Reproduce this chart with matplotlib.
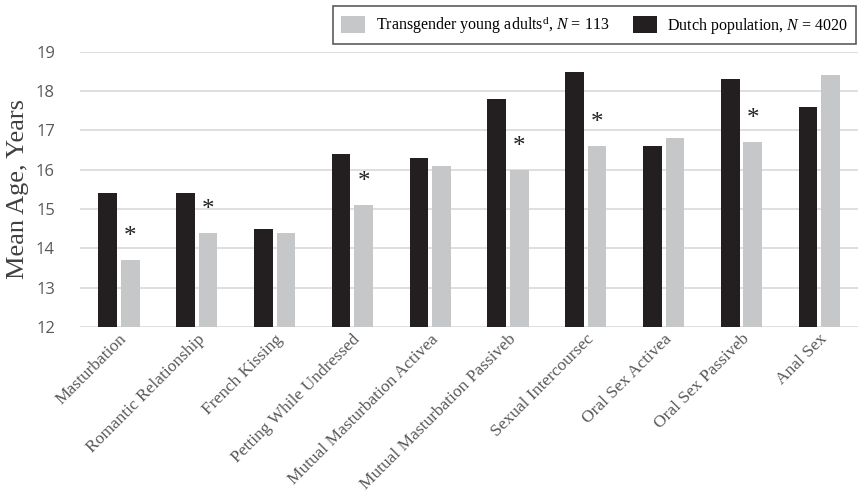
import numpy as np
import matplotlib.pyplot as plt

plt.rcParams["mathtext.fontset"] = "custom"
plt.rcParams["mathtext.rm"] = "Liberation Serif"
plt.rcParams["mathtext.it"] = "Liberation Serif:italic"

categories = ["Masturbation", "Romantic Relationship", "French Kissing",
              "Petting While Undressed", "Mutual Masturbation Activea",
              "Mutual Masturbation Passiveb", "Sexual Intercoursec",
              "Oral Sex Activea", "Oral Sex Passiveb", "Anal Sex"]
dutch = [15.4, 15.4, 14.5, 16.4, 16.3, 17.8, 18.5, 16.6, 18.3, 17.6]
trans = [13.7, 14.4, 14.4, 15.1, 16.1, 16.0, 16.6, 16.8, 16.7, 18.4]
significant = [True, True, False, True, False, True, True, False, True, False]

black = "#231f20"
gray = "#c6c7c9"
serif = "Liberation Serif"

fig = plt.figure(figsize=(8.6, 4.94), dpi=100)
ax = fig.add_axes([0.093, 0.338, 0.905, 0.557])

x = np.arange(len(categories))
w = 0.24
off = 0.145
ax.bar(x - off, [v - 12 for v in dutch], w, bottom=12, color=black, zorder=3,
       label="Dutch population, $N$ = 4020")
ax.bar(x + off, [v - 12 for v in trans], w, bottom=12, color=gray, zorder=3,
       label="Transgender young adults$^{\\mathrm{d}}$, $N$ = 113")

for i, sig in enumerate(significant):
    if sig:
        ax.text(x[i] + off, trans[i] + 0.3, "*", ha="center", va="bottom",
                fontsize=18, family=serif, color=black)

ax.set_ylim(12, 19)
ax.set_xlim(-0.5, len(categories) - 0.5)
ax.set_yticks(range(12, 20))
ax.yaxis.grid(True, color="#d9d9d9", lw=1.2, zorder=0)
for s in ax.spines.values():
    s.set_visible(False)
ax.tick_params(length=0)
ax.tick_params(axis="y", labelsize=12, labelcolor="#595959", pad=18)
for t in ax.get_yticklabels():
    t.set_family("Open Sans")

ax.set_xticks(x)
ax.set_xticklabels(categories, rotation=45, ha="right", va="top",
                   rotation_mode="anchor", family=serif, fontsize=12.5,
                   color="#595959")
ax.tick_params(axis="x", pad=3)
ax.set_ylabel("Mean Age, Years", family=serif, fontsize=19, color="#404040")
ax.yaxis.set_label_coords(-0.066, 0.5)

h, l = ax.get_legend_handles_labels()
leg = fig.legend(h[::-1], l[::-1], loc="upper right", bbox_to_anchor=(0.999, 0.995),
                 ncol=2, frameon=True, fancybox=False, edgecolor="#333333",
                 prop={"family": serif, "size": 11.5}, handlelength=1.5,
                 handleheight=1.3, columnspacing=1.5, borderpad=0.5,
                 borderaxespad=0.2, handletextpad=0.65)
leg.get_frame().set_linewidth(1.2)

fig.savefig("out.png", dpi=100)
